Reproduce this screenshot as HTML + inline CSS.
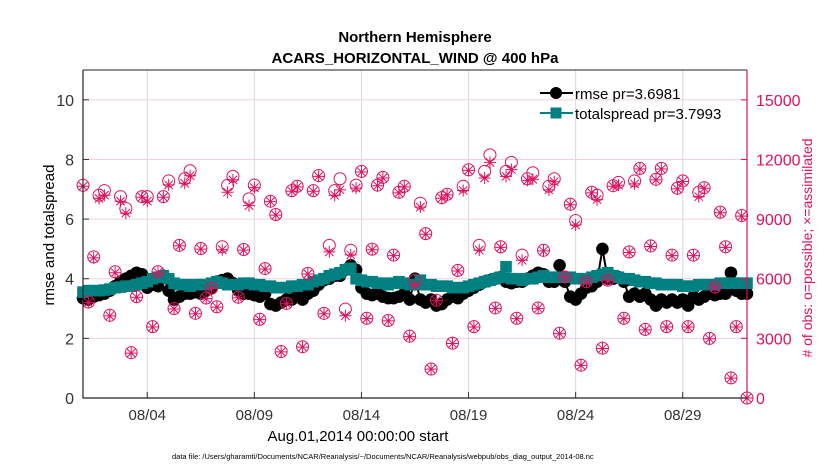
<!DOCTYPE html>
<html><head><meta charset="utf-8">
<style>
body{margin:0;background:#fff;}
svg{display:block;font-family:"Liberation Sans",sans-serif;}
</style></head>
<body>
<svg id="chart" width="830" height="470" viewBox="0 0 830 470">
  <rect width="830" height="470" fill="#fff"/>
  <text x="415" y="42" text-anchor="middle" font-size="15" font-weight="bold">Northern Hemisphere</text>
  <text x="415" y="63" text-anchor="middle" font-size="15" font-weight="bold">ACARS_HORIZONTAL_WIND @ 400 hPa</text>
  <g id="grid"></g>
  <g id="lines"></g>
  <g id="counts"></g>
  <g id="axes"></g>
  <text transform="translate(54,235) rotate(-90)" text-anchor="middle" font-size="15">rmse and totalspread</text>
  <text transform="translate(812,248) rotate(-90)" text-anchor="middle" font-size="14" fill="#e0115f"># of obs: o=possible; ×=assimilated</text>
  <text x="358" y="441" text-anchor="middle" font-size="15">Aug.01,2014 00:00:00 start</text>
  <text x="172" y="459" font-size="7.5">data file: /Users/gharamti/Documents/NCAR/Reanalysis/~/Documents/NCAR/Reanalysis/webpub/obs_diag_output_2014-08.nc</text>
  <g id="legend">
    <line x1="540" y1="93" x2="573" y2="93" stroke="#000" stroke-width="2"/>
    <circle cx="556" cy="93" r="6" fill="#000"/>
    <text x="575" y="99" font-size="15">rmse pr=3.6981</text>
    <line x1="540" y1="113" x2="573" y2="113" stroke="#008080" stroke-width="2"/>
    <rect x="550.5" y="107.5" width="11" height="11" fill="#008080"/>
    <text x="575" y="119" font-size="15">totalspread pr=3.7993</text>
  </g>
</svg>
<script>
const xTickLabels = ["08/04","08/09","08/14","08/19","08/24","08/29"];
const xTickDays = [3,8,13,18,23,28];
const yLeftTicks = [0,2,4,6,8,10];
const yRightTicks = [0,3000,6000,9000,12000,15000];
const rmse = [3.35,3.3,3.4,3.45,3.5,3.6,3.75,3.9,
4.0,4.1,4.2,4.15,3.7,3.8,3.75,4.1,
3.6,3.3,3.4,3.5,3.5,3.55,3.5,3.6,
3.7,3.9,3.95,4.0,3.85,3.6,3.5,3.5,
3.45,3.4,3.5,3.15,3.1,3.2,3.3,3.3,
3.4,3.3,3.5,3.6,3.8,3.95,4.0,4.1,
4.1,4.3,4.45,4.3,3.7,3.5,3.45,3.5,
3.4,3.35,3.35,3.4,3.5,3.3,4.0,3.3,
3.2,3.3,3.1,3.15,3.3,3.4,3.35,3.5,
3.6,3.7,3.8,3.9,3.95,4.0,4.05,3.9,
3.85,3.9,3.9,4.0,4.1,4.2,4.15,3.9,
3.9,4.45,3.9,3.4,3.3,3.5,3.7,3.75,
3.9,5.0,4.0,4.0,4.05,3.9,3.4,3.5,
3.4,3.5,3.3,3.1,3.3,3.2,3.3,3.2,
3.3,3.1,3.4,3.3,3.4,3.5,3.45,3.5,
3.5,4.2,3.6,3.5,3.5];
const spread = [3.55,3.6,3.6,3.6,3.62,3.65,3.7,3.72,
3.75,3.75,3.8,3.85,3.9,4.0,4.05,4.1,
4.0,3.85,3.8,3.8,3.75,3.8,3.8,3.8,
3.85,3.9,3.85,3.8,3.8,3.8,3.85,3.85,
3.8,3.8,3.75,3.75,3.7,3.7,3.7,3.75,
3.75,3.8,3.8,3.9,3.95,4.0,4.1,4.15,
4.2,4.3,4.35,4.0,3.95,3.9,3.9,3.85,
3.85,3.8,3.85,3.9,3.85,3.8,3.8,3.95,
3.8,3.8,3.75,3.75,3.75,3.7,3.7,3.7,
3.75,3.8,3.85,3.9,3.95,4.0,4.05,4.4,
4.0,4.0,3.95,4.0,4.0,4.05,4.1,4.05,
4.05,4.05,4.05,4.05,4.0,4.0,4.0,4.05,
4.1,4.15,4.2,4.1,4.05,4.0,4.0,3.95,
3.9,3.9,3.85,3.85,3.8,3.8,3.8,3.8,
3.75,3.75,3.75,3.8,3.8,3.8,3.8,3.85,
3.85,3.85,3.85,3.85,3.85];
const possible = [10700,4830,7100,10200,10430,4160,6350,10130,9530,2280,5100,10130,10130,3590,6350,10130,
10920,4500,7680,11030,11430,4260,7520,5030,5520,4590,7610,10700,11150,5070,7470,10020,
10710,3960,6510,9900,9230,2340,4760,10430,10650,2580,6270,10430,11190,4260,7680,10430,
11030,4470,7430,10710,11400,4010,7490,10710,11100,3900,7190,10350,10650,3110,5930,9800,
8270,1460,4920,10080,10250,2760,6420,10650,11480,3590,7680,11400,12230,4530,7610,11400,
11850,4010,7190,11030,11330,4530,7430,10650,11030,3260,6090,9750,8930,1650,5850,10350,
10200,2510,5930,10680,10850,4010,7350,10920,11550,3450,7650,11000,11550,3590,7190,10550,
10920,3590,7190,10350,10580,3000,5580,9350,7610,1010,3590,9180,0];
const assimilated = [10650,4800,7050,10040,10200,4130,6300,9900,9300,2260,5070,10100,9900,3570,6320,10100,
10720,4480,7650,10800,11180,4240,7490,5000,5490,4570,7460,10350,10970,5040,7440,9680,
10580,3940,6480,9880,9200,2320,4740,10400,10620,2560,6240,10400,11150,4240,7350,10200,
10470,4140,7200,10560,11370,3990,7460,10680,11070,3880,7160,10320,10620,3090,5690,9600,
8240,1450,4900,10050,10220,2740,6390,10440,11450,3570,7440,11070,11850,4510,7580,11150,
11490,3990,6930,10950,11000,4510,7400,10470,10880,3240,6060,9720,8700,1640,5820,10320,
9980,2490,5900,10650,10700,3990,7320,10770,11520,3430,7620,10970,11520,3570,7160,10520,
10890,3570,7160,10130,10550,2980,5550,9320,7580,1000,3570,9150,0];

const NS = "http://www.w3.org/2000/svg";
const X0 = 83, X1 = 747, Y0 = 398, Y1 = 70;
const xDays = d => X0 + (X1 - X0) * d / 31;
const xIdx = i => xDays(i * 0.25);
const yL = v => Y0 - (Y0 - Y1) * v / 11;
const yR = c => Y0 - (Y0 - Y1) * c / 16500;
const PINK = "#e0115f";
function mk(tag, attrs, parent) {
  const e = document.createElementNS(NS, tag);
  for (const k in attrs) e.setAttribute(k, attrs[k]);
  parent.appendChild(e);
  return e;
}
const grid = document.getElementById("grid");
const axes = document.getElementById("axes");
const lines = document.getElementById("lines");
const counts = document.getElementById("counts");

xTickDays.forEach((d, i) => {
  const x = xDays(d);
  const g = mk("line", {x1:x, x2:x, y1:Y1, y2:Y0, stroke:"#d8d8d8", "stroke-width":1}, grid);
  
  
  const t = mk("line", {x1:x, x2:x, y1:Y0, y2:Y0-6, stroke:"#333"}, axes);
  
  
  const l = mk("text", {x:x, y:Y0+22, "text-anchor":"middle", "font-size":15, fill:"#333"}, axes);
  l.textContent = xTickLabels[i];
  
  
});
yRightTicks.forEach(c => {
  const y = yR(c);
  if (c > 0) {
    const g = mk("line", {x1:X0, x2:X1, y1:y, y2:y, stroke:"#f2d0dc", "stroke-width":1}, grid);
    
    
  }
  const t = mk("line", {x1:X1-6, x2:X1, y1:y, y2:y, stroke:PINK}, axes);
  
  
  const l = mk("text", {x:X1+9, y:y+6, "font-size":16, fill:PINK}, axes);
  l.textContent = c;
  
  
});
yLeftTicks.forEach(v => {
  const y = yL(v);
  const t = mk("line", {x1:X0, x2:X0+6, y1:y, y2:y, stroke:"#333"}, axes);
  
  
  const l = mk("text", {x:X0-9, y:y+6, "text-anchor":"end", "font-size":16, fill:"#333"}, axes);
  l.textContent = v;
  
  
});
const ax1 = mk("path", {d:`M${X0},${Y1} V${Y0} H${X1}`, fill:"none", stroke:"#222", "stroke-width":1.2}, axes);


const ax2 = mk("line", {x1:X1, x2:X1, y1:Y1, y2:Y0, stroke:PINK, "stroke-width":1.2}, axes);


const ax3 = mk("line", {x1:X0, x2:X1, y1:Y1, y2:Y1, stroke:"#222", "stroke-width":1}, axes);



const rp = mk("polyline", {points: rmse.map((v,i)=>xIdx(i)+","+yL(v)).join(" "), fill:"none", stroke:"#000", "stroke-width":2}, lines);


rmse.forEach((v,i) => {
  const c = mk("circle", {cx:xIdx(i), cy:yL(v), r:6.3, fill:"#000"}, lines);
  
  
});
const sp = mk("polyline", {points: spread.map((v,i)=>xIdx(i)+","+yL(v)).join(" "), fill:"none", stroke:"#008080", "stroke-width":2}, lines);


spread.forEach((v,i) => {
  const r = mk("rect", {x:xIdx(i)-5.8, y:yL(v)-5.8, width:11.6, height:11.6, fill:"#008080"}, lines);
  
  
});
possible.forEach((c,i) => {
  const e = mk("circle", {cx:xIdx(i), cy:yR(c), r:6, fill:"none", stroke:PINK, "stroke-width":1}, counts);
  
  
});
assimilated.forEach((c,i) => {
  const x = xIdx(i), y = yR(c), s = 6, d = 4.2;
  const p = mk("path", {d:`M${x-s},${y}H${x+s}M${x},${y-s}V${y+s}M${x-d},${y-d}L${x+d},${y+d}M${x-d},${y+d}L${x+d},${y-d}`, stroke:PINK, "stroke-width":1, fill:"none"}, counts);
  
  
});
</script>
</body></html>
